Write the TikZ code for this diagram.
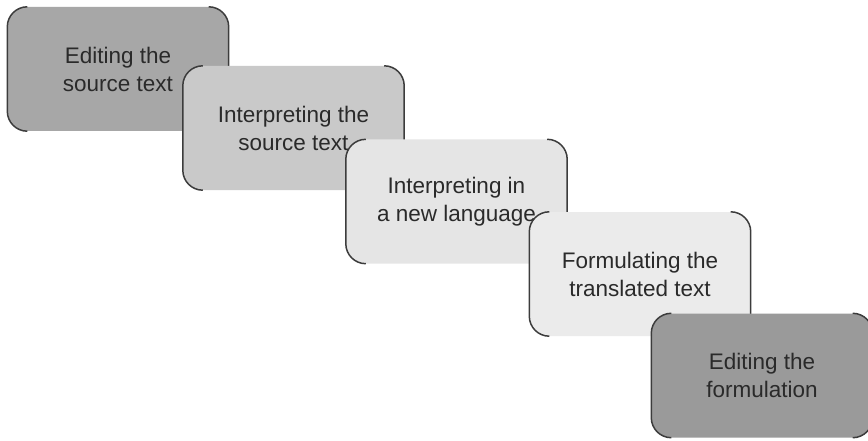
\documentclass[tikz,border=0pt]{standalone}
\usepackage{fontspec}
\setmainfont{Liberation Sans}
\definecolor{edgegray}{HTML}{3C3C3C}
\definecolor{textgray}{HTML}{2A2A2A}
\definecolor{fillA}{HTML}{A7A7A7}
\definecolor{fillB}{HTML}{C9C9C9}
\definecolor{fillC}{HTML}{E5E5E5}
\definecolor{fillD}{HTML}{EBEBEB}
\definecolor{fillE}{HTML}{9A9A9A}
\begin{document}
\begin{tikzpicture}[x=1pt,y=1pt,
  stepbox/.style={rectangle, rounded corners=20pt, draw=none,
    minimum width=221pt, minimum height=124pt, inner sep=0pt,
    align=center, text=textgray,
    font=\fontsize{22.5}{28}\selectfont},
  sidestroke/.style={draw=edgegray, line width=1.5pt}]
\clip (0,0) rectangle (868,440);
\fill[white] (0,0) rectangle (868,440);
\foreach \nm/\cx/\cy/\col/\txt in {
  s1/118/371/fillA/{Editing the\\source text},
  s2/293.5/312/fillB/{Interpreting the\\source text},
  s3/456.5/238.5/fillC/{Interpreting in\\a new language},
  s4/640/166/fillD/{Formulating the\\translated text},
  s5/762/64.5/fillE/{Editing the\\formulation}}{
  \node[stepbox, fill=\col] (\nm) at (\cx,\cy) {\txt};
  % dark strokes on the two vertical sides and the four corners
  \draw[sidestroke] ([xshift=20pt]\nm.north west)
      arc[start angle=90, end angle=180, radius=20pt]
      -- ([yshift=20pt]\nm.south west)
      arc[start angle=180, end angle=270, radius=20pt];
  \draw[sidestroke] ([xshift=-20pt]\nm.north east)
      arc[start angle=90, end angle=0, radius=20pt]
      -- ([yshift=20pt]\nm.south east)
      arc[start angle=0, end angle=-90, radius=20pt];
}
\end{tikzpicture}
\end{document}
